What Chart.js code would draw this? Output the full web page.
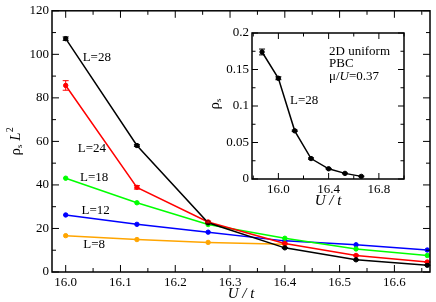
<!DOCTYPE html>
<html>
<head>
<meta charset="utf-8">
<script src="https://cdn.jsdelivr.net/npm/chart.js@4"></script>
<style>
  body { margin: 0; background: #fff; }
  #wrap { position: relative; width: 436px; height: 302px; }
  #main { position: absolute; left: 0; top: 0; }
  #inset { position: absolute; left: 200px; top: 20px; }
</style>
</head>
<body>
<div id="wrap">
  <canvas id="main" width="436" height="302"></canvas>
  <canvas id="inset" width="210" height="195"></canvas>
</div>
<script>
// main panel: rho_s * L^2 against U/t for each system size
const uMain = [16.0, 16.13, 16.26, 16.4, 16.53, 16.66];
const rhoL28 = [107.2, 58.1, 22.6, 11.1, 5.6, 3.1];
const rhoL24 = [85.7, 38.9, 23.0, 13.1, 7.6, 4.6];
const rhoL18 = [43.1, 31.8, 21.8, 15.5, 10.6, 7.6];
const rhoL12 = [26.2, 21.9, 18.3, 14.3, 12.5, 10.1];
const rhoL8 = [16.7, 14.9, 13.6, 12.7];
const errL28 = [0.8, 0.4, 0.3, 0.2, 0.1, 0.1];
const errL24 = [2.2, 0.8, 0.4, 0.2, 0.2, 0.1];
const xTicksMain = [16.0, 16.1, 16.2, 16.3, 16.4, 16.5, 16.6];
const yTicksMain = [0, 20, 40, 60, 80, 100, 120];

// inset: rho_s for L=28
const uInset = [15.87, 16.0, 16.13, 16.26, 16.4, 16.53, 16.66];
const rhoInset = [0.174, 0.138, 0.066, 0.028, 0.014, 0.0077, 0.0036];
const errInset = [0.004, 0.002, 0.001, 0.001, 0.0005, 0.0005, 0.0005];
const xTicksInset = [16.0, 16.4, 16.8];
const yTicksInset = [0, 0.05, 0.1, 0.15, 0.2];

const FONT = 'Liberation Serif';
Chart.defaults.color = '#000';
Chart.defaults.font.family = FONT;

const pts = (xs, ys) => ys.map((y, i) => ({ x: xs[i], y: y }));

function line(label, data, color, errors) {
  return {
    label: label, data: data, errors: errors,
    borderColor: color, backgroundColor: color,
    pointBackgroundColor: color, pointBorderColor: color,
    borderWidth: 1.5, pointRadius: 2.2, pointBorderWidth: 1,
    tension: 0, clip: false
  };
}

// draws text made of runs, e.g. sub/superscripts and italics
function drawRuns(ctx, runs, x, y, align) {
  let w = 0;
  runs.forEach(r => {
    ctx.font = (r.italic ? 'italic ' : '') + (r.size || 13) + 'px "' + FONT + '"';
    r.w = ctx.measureText(r.t).width;
    w += r.w;
  });
  let cx = align === 'center' ? x - w / 2 : x;
  runs.forEach(r => {
    ctx.font = (r.italic ? 'italic ' : '') + (r.size || 13) + 'px "' + FONT + '"';
    ctx.fillText(r.t, cx, y + (r.dy || 0));
    cx += r.w;
  });
}

const frame = {
  id: 'frame',
  afterDatasetsDraw(chart, args, o) {
    const ctx = chart.ctx;
    const { left, right, top, bottom } = chart.chartArea;
    const xs = chart.scales.x, ys = chart.scales.y;
    ctx.save();

    // error bars
    chart.data.datasets.forEach((ds, i) => {
      if (!ds.errors) return;
      const meta = chart.getDatasetMeta(i);
      ctx.strokeStyle = ds.borderColor;
      ctx.lineWidth = 1;
      meta.data.forEach((p, j) => {
        const e = ds.errors[j];
        if (!e) return;
        const v = ds.data[j].y;
        const y1 = ys.getPixelForValue(v - e), y2 = ys.getPixelForValue(v + e);
        ctx.beginPath();
        ctx.moveTo(p.x, y1); ctx.lineTo(p.x, y2);
        ctx.moveTo(p.x - 3, y1); ctx.lineTo(p.x + 3, y1);
        ctx.moveTo(p.x - 3, y2); ctx.lineTo(p.x + 3, y2);
        ctx.stroke();
      });
    });

    // inward ticks on all four sides
    ctx.strokeStyle = '#000';
    ctx.lineWidth = 1;
    const each = (scale, major, minor, fn) => {
      const k0 = Math.ceil(scale.min / minor - 1e-6), k1 = Math.floor(scale.max / minor + 1e-6);
      for (let k = k0; k <= k1; k++) {
        const v = k * minor;
        const isMajor = Math.abs(v / major - Math.round(v / major)) < 1e-6;
        fn(scale.getPixelForValue(v), isMajor ? o.majorLen : o.minorLen);
      }
    };
    ctx.beginPath();
    each(xs, o.xMajor, o.xMinor, (px, len) => {
      ctx.moveTo(px, bottom); ctx.lineTo(px, bottom - len);
      ctx.moveTo(px, top); ctx.lineTo(px, top + len);
    });
    each(ys, o.yMajor, o.yMinor, (py, len) => {
      ctx.moveTo(left, py); ctx.lineTo(left + len, py);
      ctx.moveTo(right, py); ctx.lineTo(right - len, py);
    });
    ctx.stroke();

    ctx.lineWidth = 1.5;
    ctx.strokeRect(left, top, right - left, bottom - top);

    // notes placed in data coordinates
    ctx.fillStyle = '#000';
    ctx.textBaseline = 'middle';
    ctx.textAlign = 'left';
    (o.notes || []).forEach(n => {
      drawRuns(ctx, n.runs, xs.getPixelForValue(n.x), ys.getPixelForValue(n.y), 'left');
    });

    // rotated y title
    ctx.translate(o.yTitleX, (top + bottom) / 2 + o.yTitleShift);
    ctx.rotate(-Math.PI / 2);
    drawRuns(ctx, o.yTitle, 0, 0, 'center');
    ctx.restore();
  }
};

function scales(xmin, xmax, ymin, ymax, xTicks, yTicks, xFmt, yW, xH, titlePad) {
  return {
    x: {
      type: 'linear', min: xmin, max: xmax,
      grid: { display: false, drawTicks: false }, border: { display: false },
      afterBuildTicks: s => { s.ticks = xTicks.map(v => ({ value: v })); },
      afterFit: s => { s.height = xH; },
      ticks: { font: { size: 13 }, padding: 3, maxRotation: 0, callback: xFmt },
      title: { display: true, text: 'U / t', font: { size: 15, style: 'italic', lineHeight: 1 },
               padding: { top: 0, bottom: titlePad } }
    },
    y: {
      min: ymin, max: ymax,
      grid: { display: false, drawTicks: false }, border: { display: false },
      afterBuildTicks: s => { s.ticks = yTicks.map(v => ({ value: v })); },
      afterFit: s => { s.width = yW; },
      ticks: { font: { size: 13 }, padding: 3, callback: v => String(+v.toFixed(3)) }
    }
  };
}

const common = {
  responsive: false, animation: false, events: [],
  plugins: { legend: { display: false }, tooltip: { enabled: false } }
};

new Chart(document.getElementById('main'), {
  type: 'line',
  data: {
    datasets: [
      line('L=28', pts(uMain, rhoL28), '#000000', errL28),
      line('L=24', pts(uMain, rhoL24), '#ff0000', errL24),
      line('L=18', pts(uMain, rhoL18), '#00ff00'),
      line('L=12', pts(uMain, rhoL12), '#0000ff'),
      line('L=8', pts(uMain, rhoL8), '#ffa500')
    ]
  },
  options: Object.assign({}, common, {
    layout: { padding: { top: 5, right: 6, left: 0, bottom: 0 } },
    scales: scales(15.975, 16.665, 0, 120, xTicksMain, yTicksMain, v => v.toFixed(1), 52, 30, 0),
    plugins: Object.assign({}, common.plugins, {
      frame: {
        xMajor: 0.1, xMinor: 0.05, yMajor: 20, yMinor: 10, majorLen: 7, minorLen: 4,
        yTitleX: 16, yTitleShift: 0,
        yTitle: [{ t: 'ρ', size: 15 }, { t: 's', size: 9, dy: 4 }, { t: ' ', size: 15 },
                 { t: 'L', size: 15, italic: true }, { t: '2', size: 10, dy: -6 }],
        notes: [
          { x: 16.031, y: 98.5, runs: [{ t: 'L=28' }] },
          { x: 16.022, y: 56.5, runs: [{ t: 'L=24' }] },
          { x: 16.026, y: 43.4, runs: [{ t: 'L=18' }] },
          { x: 16.029, y: 28.1, runs: [{ t: 'L=12' }] },
          { x: 16.032, y: 12.4, runs: [{ t: 'L=8' }] }
        ]
      }
    })
  }),
  plugins: [frame]
});

new Chart(document.getElementById('inset'), {
  type: 'line',
  data: {
    datasets: [line('L=28', pts(uInset, rhoInset), '#000000', errInset)]
  },
  options: Object.assign({}, common, {
    layout: { padding: { top: 13, right: 6, left: 0, bottom: 0 } },
    scales: scales(15.79, 17.0, 0, 0.2, xTicksInset, yTicksInset, v => v.toFixed(1), 52, 36, 6),
    plugins: Object.assign({}, common.plugins, {
      frame: {
        xMajor: 0.4, xMinor: 0.2, yMajor: 0.05, yMinor: 0.025, majorLen: 6, minorLen: 3.5,
        yTitleX: 15, yTitleShift: -2,
        yTitle: [{ t: 'ρ', size: 15 }, { t: 's', size: 9, dy: 4 }],
        notes: [
          { x: 16.403, y: 0.1744, runs: [{ t: '2D uniform' }] },
          { x: 16.403, y: 0.1585, runs: [{ t: 'PBC' }] },
          { x: 16.403, y: 0.1405, runs: [{ t: 'μ/' }, { t: 'U', italic: true }, { t: '=0.37' }] },
          { x: 16.093, y: 0.108, runs: [{ t: 'L=28' }] }
        ]
      }
    })
  }),
  plugins: [frame]
});
</script>
</body>
</html>
